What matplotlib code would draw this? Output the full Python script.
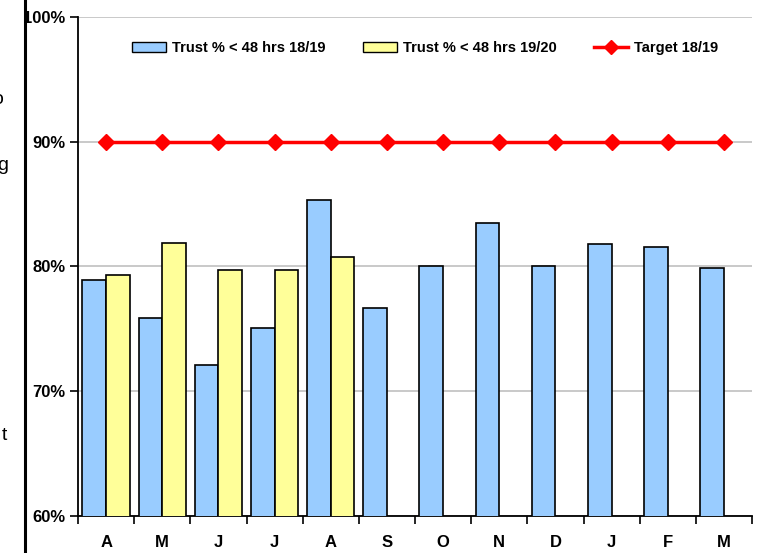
import matplotlib
matplotlib.use("Agg")
import matplotlib.pyplot as plt
from matplotlib import font_manager
from matplotlib.lines import Line2D
from matplotlib.patches import Patch
from matplotlib.ticker import FixedLocator, PercentFormatter
import numpy as np

months = ["A", "M", "J", "J", "A", "S", "O", "N", "D", "J", "F", "M"]
trust_1819 = [78.9, 75.9, 72.1, 75.1, 85.3, 76.7, 80.0, 83.5, 80.0, 81.8, 81.6, 79.9]
trust_1920 = [79.3, 81.9, 79.7, 79.7, 80.8]
target_1819 = [90, 90, 90, 90, 90, 90, 90, 90, 90, 90, 90, 90]

# pick a condensed bold face when one is available
available = {f.name for f in font_manager.fontManager.ttflist}
if "Liberation Sans Narrow" in available:
    label_font, legend_size = "Liberation Sans Narrow", 12
elif "DejaVu Sans Condensed" in available:
    label_font, legend_size = "DejaVu Sans Condensed", 10
else:
    label_font, legend_size = "Liberation Sans", 10.5
label_family = [label_font, "DejaVu Sans"]

fig = plt.figure(figsize=(7.58, 5.53), dpi=100)
ax = fig.add_axes([78 / 758, 1 - 516 / 553, (752 - 78) / 758, (516 - 17) / 553])

x = np.arange(len(months))
w = 0.42
ax.bar(x - w / 2, trust_1819, width=w, color="#99ccff",
       edgecolor="black", linewidth=1.2, zorder=3)
ax.bar(x[:len(trust_1920)] + w / 2, trust_1920, width=w, color="#ffff99",
       edgecolor="black", linewidth=1.2, zorder=3)
ax.plot(x, target_1819, color="#ff0000", linewidth=2.5, marker="D",
        markersize=8, zorder=4)

ax.set_xlim(-0.5, len(months) - 0.5)
ax.set_ylim(60, 100)
ax.yaxis.set_major_locator(FixedLocator([60, 70, 80, 90, 100]))
ax.yaxis.set_major_formatter(PercentFormatter(decimals=0))
ax.grid(axis="y", color="#c0c0c0", linewidth=1.2, zorder=0)
ax.set_axisbelow(True)

ax.set_xticks(x)
ax.set_xticklabels(months)
ax.set_xticks(np.arange(-0.5, len(months)), minor=True)
ax.tick_params(axis="x", which="major", length=0, pad=14)
ax.tick_params(axis="x", which="minor", length=6, width=1.2, direction="out")
ax.tick_params(axis="y", length=6, width=1.2, direction="out", pad=3)

for lab in ax.get_xticklabels() + ax.get_yticklabels():
    lab.set_fontfamily(label_family)
    lab.set_fontweight("bold")
    lab.set_fontsize(12)

for side in ("top", "right"):
    ax.spines[side].set_visible(False)
for side in ("left", "bottom"):
    ax.spines[side].set_linewidth(1.3)

handles = [
    Patch(facecolor="#99ccff", edgecolor="black", linewidth=1.0),
    Patch(facecolor="#ffff99", edgecolor="black", linewidth=1.0),
    Line2D([], [], color="#ff0000", linewidth=2.5, marker="D", markersize=7),
]
labels = ["Trust % < 48 hrs 18/19", "Trust % < 48 hrs 19/20", "Target 18/19"]
ax.legend(handles, labels, loc="upper center", bbox_to_anchor=(0.515, 0.978),
          ncol=3, frameon=False, columnspacing=2.6, handlelength=2.3,
          handletextpad=0.4,
          prop={"family": label_family, "weight": "bold", "size": legend_size})

# neighbouring slide text and divider on the left edge
fig.add_artist(Line2D([25 / 758, 25 / 758], [0, 1], color="black", linewidth=2.2))
for ch, xr, yc in [("o", 3, 99), ("g", 8, 166), ("t", 7, 435)]:
    fig.text(xr / 758, 1 - yc / 553, ch, ha="right", va="center",
             fontsize=14, family=["Liberation Sans", "DejaVu Sans"])

fig.savefig("out.png", dpi=100)
